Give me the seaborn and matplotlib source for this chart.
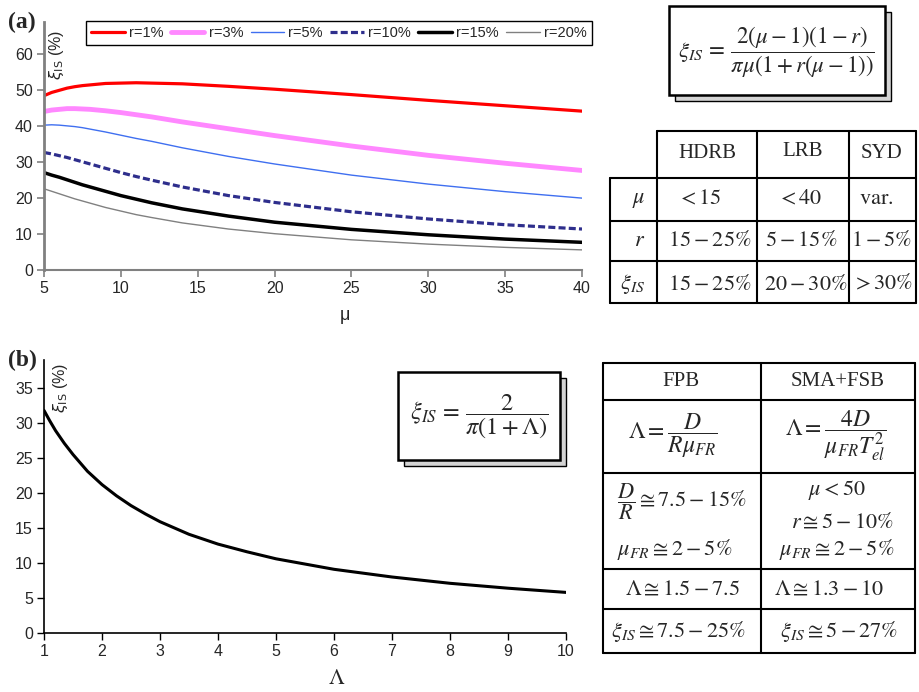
import matplotlib
matplotlib.use("Agg")
import matplotlib.pyplot as plt
import seaborn as sns
import pandas as pd
from matplotlib.patches import Rectangle
from matplotlib.lines import Line2D

# ---------------- data ----------------
mu = [5, 5.5, 6, 6.5, 7, 7.5, 8, 9, 10, 11, 12, 14, 17, 20, 25, 30, 35, 40]
xi_r1 = [48.5, 49.4, 50.0, 50.6, 51.0, 51.3, 51.5, 51.9, 52.0, 52.1, 52.0, 51.8, 51.1, 50.3, 48.8, 47.2, 45.7, 44.2]
xi_r3 = [44.1, 44.5, 44.7, 44.9, 44.9, 44.8, 44.7, 44.3, 43.8, 43.2, 42.6, 41.2, 39.3, 37.4, 34.5, 31.9, 29.7, 27.7]
xi_r5 = [40.3, 40.4, 40.3, 40.1, 39.9, 39.6, 39.2, 38.4, 37.5, 36.6, 35.8, 34.0, 31.6, 29.5, 26.4, 23.9, 21.8, 20.0]
xi_r10 = [32.7, 32.3, 31.8, 31.3, 30.7, 30.1, 29.5, 28.3, 27.1, 26.0, 25.0, 23.1, 20.7, 18.8, 16.2, 14.2, 12.6, 11.4]
xi_r15 = [27.1, 26.4, 25.8, 25.1, 24.4, 23.7, 23.1, 21.9, 20.7, 19.7, 18.7, 17.0, 15.0, 13.3, 11.3, 9.8, 8.6, 7.7]
xi_r20 = [22.6, 21.9, 21.2, 20.5, 19.8, 19.2, 18.6, 17.4, 16.4, 15.4, 14.6, 13.1, 11.4, 10.1, 8.4, 7.2, 6.3, 5.6]
series_labels = ["r=1%", "r=3%", "r=5%", "r=10%", "r=15%", "r=20%"]

lam = [1, 1.1, 1.2, 1.35, 1.5, 1.75, 2, 2.25, 2.5, 2.75, 3, 3.5, 4, 4.5, 5, 6, 7, 8, 9, 10]
xi_lam = [31.8, 30.3, 28.9, 27.1, 25.5, 23.1, 21.2, 19.6, 18.2, 17.0, 15.9, 14.1, 12.7, 11.6,
          10.6, 9.1, 8.0, 7.1, 6.4, 5.8]

# ---------------- style ----------------
sns.set_style("white")
plt.rcParams["font.family"] = ["Liberation Sans", "DejaVu Sans"]
plt.rcParams["mathtext.fontset"] = "stix"

W, H = 919, 692
fig = plt.figure(figsize=(W / 100, H / 100), dpi=100)


def fax(l, r, t, b):
    return [l / W, 1 - b / H, (r - l) / W, (b - t) / H]


# ---------------- panel (a) ----------------
axa = fig.add_axes(fax(44, 582, 22, 270))
styles = [
    dict(color="#FF0000", lw=2.3, ls="-"),
    dict(color="#FF88FF", lw=3.5, ls="-"),
    dict(color="#3F6FF0", lw=1.0, ls="-"),
    dict(color="#2E2E8C", lw=2.3, ls=(0, (2.2, 1.0))),
    dict(color="#000000", lw=2.5, ls="-"),
    dict(color="#808080", lw=1.0, ls="-"),
]
ys = [xi_r1, xi_r3, xi_r5, xi_r10, xi_r15, xi_r20]
for y, lab, st in zip(ys, series_labels, styles):
    sns.lineplot(x=mu, y=y, ax=axa, label=lab, color=st["color"],
                 linewidth=st["lw"], linestyle=st["ls"])
axa.set_xlim(5, 40)
axa.set_ylim(0, 69)
axa.set_xticks([5, 10, 15, 20, 25, 30, 35, 40])
axa.set_yticks([0, 10, 20, 30, 40, 50, 60])
for s in ["top", "right"]:
    axa.spines[s].set_visible(False)
for s in ["left", "bottom"]:
    axa.spines[s].set_color("#808080")
axa.spines["left"].set_linewidth(2.0)
axa.spines["bottom"].set_linewidth(1.5)
axa.tick_params(direction="out", length=5, width=1.2, color="#808080",
                labelsize=11.5, pad=3, bottom=True, left=True)
axa.set_xlabel("")
axa.set_ylabel("")
leg = axa.legend(loc="upper left", bbox_to_anchor=(86 / W, 1 - 21 / H),
                 bbox_transform=fig.transFigure, ncol=6, frameon=True,
                 fancybox=False, edgecolor="black", framealpha=1,
                 fontsize=10.5, handlelength=2.3, handletextpad=0.3,
                 columnspacing=0.5, borderpad=0.35, borderaxespad=0)
leg.get_frame().set_linewidth(1.0)

# ---------------- panel (b) ----------------
axb = fig.add_axes(fax(44, 566, 360, 633))
sns.lineplot(x=lam, y=xi_lam, ax=axb, color="black", linewidth=2.2)
axb.set_xlim(1, 10)
axb.set_ylim(0, 39)
axb.set_xticks(range(1, 11))
axb.set_yticks([0, 5, 10, 15, 20, 25, 30, 35])
for s in ["top", "right"]:
    axb.spines[s].set_visible(False)
for s in ["left", "bottom"]:
    axb.spines[s].set_color("black")
    axb.spines[s].set_linewidth(1.2)
axb.tick_params(direction="out", length=5, width=1.0, color="black",
                labelsize=11.5, pad=3, bottom=True, left=True)
axb.set_xlabel("")
axb.set_ylabel("")

# ---------------- overlay (texts, boxes, tables) ----------------
ov = fig.add_axes([0, 0, 1, 1], zorder=10)
ov.set_xlim(0, W)
ov.set_ylim(H, 0)
ov.axis("off")
ov.patch.set_alpha(0)

serif = ["Liberation Serif", "DejaVu Serif"]

ov.text(22, 22, "(a)", fontsize=17, fontweight="bold", family=serif,
        ha="center", va="center")
ov.text(22, 360, "(b)", fontsize=17, fontweight="bold", family=serif,
        ha="center", va="center")

ov.text(57, 55, r"$\xi_{\mathrm{IS}}$ (%)", rotation=90, fontsize=11.5,
        ha="center", va="center", math_fontfamily="dejavusans")
ov.text(61, 388, r"$\xi_{\mathrm{IS}}$ (%)", rotation=90, fontsize=11.5,
        ha="center", va="center", math_fontfamily="dejavusans")

ov.text(345, 316, "μ", fontsize=13, ha="center", va="center")
ov.text(337, 678, r"$\Lambda$", fontsize=16, ha="center", va="center")


def shadow_box(x0, y0, x1, y1, off=6):
    ov.add_patch(Rectangle((x0 + off, y0 + off), x1 - x0, y1 - y0,
                           facecolor="#d4d4d4", edgecolor="black", lw=1.0))
    ov.add_patch(Rectangle((x0, y0), x1 - x0, y1 - y0,
                           facecolor="white", edgecolor="black", lw=1.8))


shadow_box(669, 6, 885, 95)
ov.text(776, 52, r"$\xi_{IS}\,=\,\dfrac{2(\mu-1)(1-r)}{\pi\mu(1+r(\mu-1))}$",
        fontsize=16.5, ha="center", va="center")

shadow_box(398, 372, 560, 460)
ov.text(479, 417, r"$\xi_{IS}\,=\,\dfrac{2}{\pi(1+\Lambda)}$",
        fontsize=17.5, ha="center", va="center")


def hline(x0, x1, y, lw=1.5):
    ov.add_line(Line2D([x0, x1], [y, y], color="black", lw=lw))


def vline(x, y0, y1, lw=1.5):
    ov.add_line(Line2D([x, x], [y0, y1], color="black", lw=lw))


# table (a)
tax = [610, 657, 757, 849, 916]
tay = [131, 178, 221, 261, 303]
hline(657, 916, tay[0])
for yy in tay[1:]:
    hline(610, 916, yy)
vline(610, tay[1], tay[4])
for xx in tax[1:]:
    vline(xx, tay[0], tay[4])

tfs = 16
P = r"\%"
ov.text(707, 153, "HDRB", family=serif, fontsize=15, ha="center", va="center")
ov.text(803, 151, "LRB", family=serif, fontsize=15, ha="center", va="center")
ov.text(881, 153, "SYD", family=serif, fontsize=15, ha="center", va="center")
cells_a = [
    (639, 199, r"$\mu$"), (699, 199, r"$<15$"), (800, 199, r"$<40$"), (876, 199, r"$\mathrm{var.}$"),
    (640, 241, r"$r$"), (710, 241, r"$15-25" + P + "$"), (801, 241, r"$5-15" + P + "$"),
    (882, 241, r"$1-5" + P + "$"),
    (633, 284, r"$\xi_{IS}$"), (710, 284, r"$15-25" + P + "$"), (806, 284, r"$20-30" + P + "$"),
    (883, 284, r"$>30" + P + "$"),
]
for x, y, s in cells_a:
    ov.text(x, y, s, fontsize=tfs, ha="center", va="center")

# table (b)
tbx = [603, 761, 915]
tby = [363, 400, 473, 569, 609, 653]
for yy in tby:
    hline(603, 915, yy)
for xx in tbx:
    vline(xx, 363, 653)
ov.text(681, 382, "FPB", family=serif, fontsize=15, ha="center", va="center")
ov.text(838, 382, "SMA+FSB", family=serif, fontsize=15, ha="center", va="center")
cells_b = [
    (673, 436, r"$\Lambda=\dfrac{D}{R\mu_{FR}}$", "center", 17),
    (836, 436, r"$\Lambda=\dfrac{4D}{\mu_{FR}T_{el}^{2}}$", "center", 17),
    (617, 502, r"$\dfrac{D}{R}\cong7.5-15" + P + "$", "left", 16),
    (617, 549, r"$\mu_{FR}\cong2-5" + P + "$", "left", 16),
    (837, 490, r"$\mu<50$", "center", 16),
    (842, 522, r"$r\cong5-10" + P + "$", "center", 16),
    (837, 549, r"$\mu_{FR}\cong2-5" + P + "$", "center", 16),
    (683, 589, r"$\Lambda\cong1.5-7.5$", "center", 16),
    (829, 589, r"$\Lambda\cong1.3-10$", "center", 16),
    (678, 632, r"$\xi_{IS}\cong7.5-25" + P + "$", "center", 16),
    (839, 632, r"$\xi_{IS}\cong5-27" + P + "$", "center", 16),
]
for x, y, s, ha, fs in cells_b:
    ov.text(x, y, s, fontsize=fs, ha=ha, va="center")

fig.savefig("out.png", dpi=100)
